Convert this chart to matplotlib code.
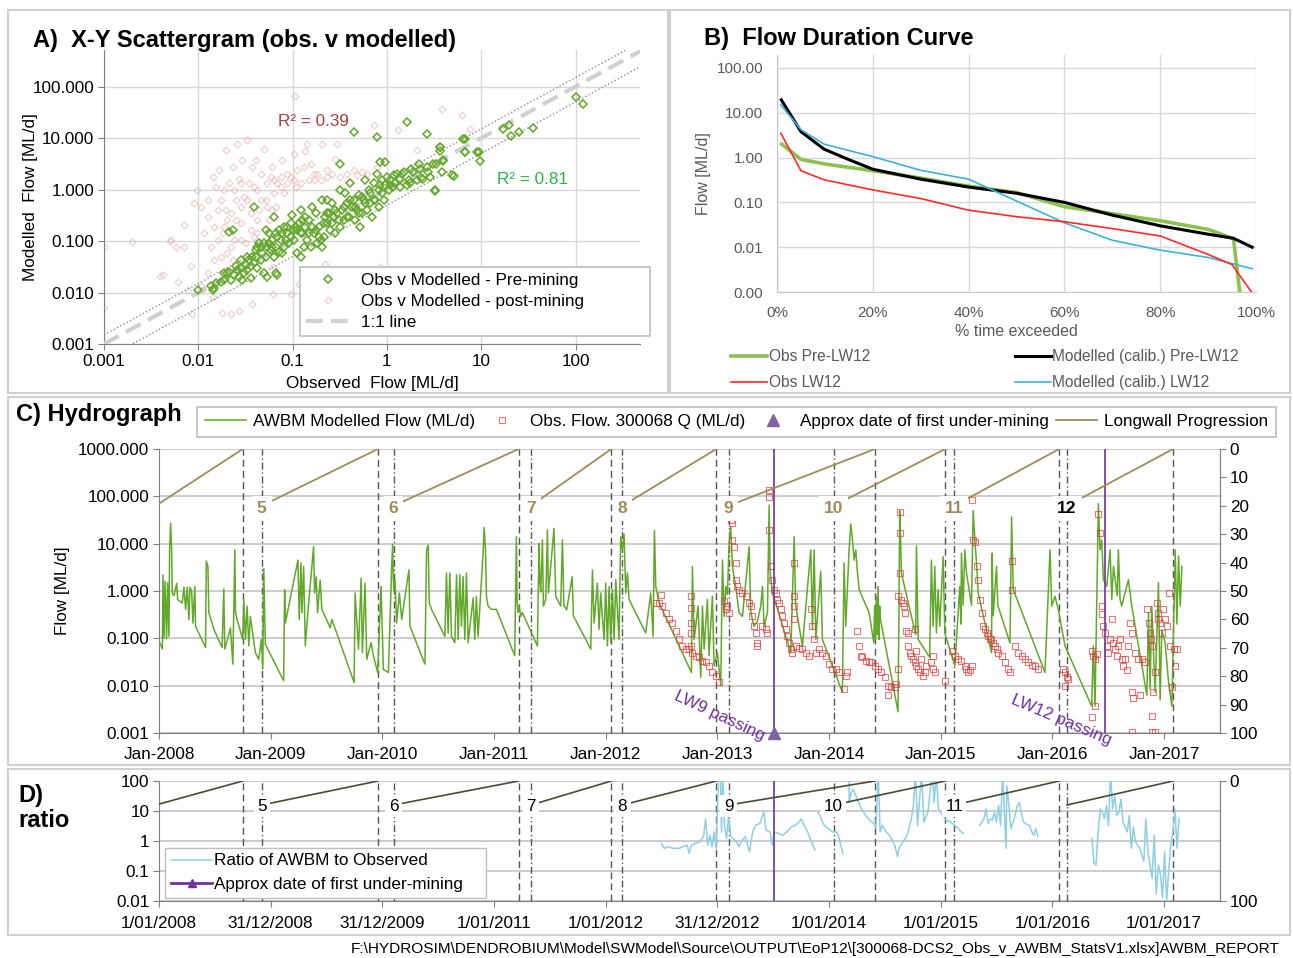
import numpy as np
import matplotlib
matplotlib.use('Agg')
import matplotlib.pyplot as plt
from matplotlib.patches import Rectangle
from matplotlib.lines import Line2D
from matplotlib.ticker import NullLocator

plt.rcParams['font.family'] = ['Liberation Sans', 'DejaVu Sans']

# ---------------- data ----------------
# A) scattergram: (observed, modelled) ML/d
PRE_MINING = [
    (0.010, 0.011), (0.0136, 0.0131), (0.0142, 0.0113), (0.0154, 0.0152), (0.0174, 0.0163), (0.0188, 0.0176),
    (0.0212, 0.025), (0.0221, 0.0176), (0.024, 0.022), (0.026, 0.027), (0.0271, 0.0204), (0.0282, 0.030),
    (0.0306, 0.0237), (0.0319, 0.034), (0.0332, 0.027), (0.0346, 0.043), (0.036, 0.032), (0.0391, 0.037),
    (0.0407, 0.050), (0.0424, 0.030), (0.0441, 0.090), (0.0459, 0.043), (0.0478, 0.058), (0.0498, 0.0237),
    (0.0519, 0.050), (0.054, 0.078), (0.0562, 0.141), (0.0586, 0.067), (0.061, 0.105), (0.0635, 0.296),
    (0.0635, 0.050), (0.0661, 0.078), (0.0689, 0.121), (0.0689, 0.022), (0.0717, 0.062), (0.0747, 0.105),
    (0.0778, 0.058), (0.081, 0.189), (0.0844, 0.105), (0.0879, 0.141), (0.0915, 0.090), (0.0953, 0.121),
    (0.0992, 0.318), (0.103, 0.163), (0.108, 0.189), (0.112, 0.058), (0.117, 0.220), (0.122, 0.40),
    (0.122, 0.141), (0.127, 0.255), (0.132, 0.078), (0.137, 0.189), (0.143, 0.105), (0.149, 0.255),
    (0.155, 0.078), (0.161, 0.46), (0.168, 0.141), (0.175, 0.163), (0.182, 0.090), (0.190, 0.189),
    (0.198, 0.105), (0.206, 0.62), (0.214, 0.121), (0.223, 0.296), (0.232, 0.220), (0.242, 0.343),
    (0.252, 0.163), (0.262, 0.54), (0.273, 0.296), (0.285, 0.141), (0.296, 0.343), (0.321, 0.189),
    (0.321, 3.18), (0.335, 0.40), (0.349, 0.255), (0.363, 0.84), (0.378, 0.54), (0.394, 0.296),
    (0.41, 1.31), (0.427, 0.46), (0.445, 0.62), (0.445, 13.1), (0.463, 0.255), (0.482, 0.40),
    (0.502, 0.78), (0.523, 0.189), (0.545, 0.343), (0.567, 0.62), (0.59, 1.52), (0.615, 0.40),
    (0.64, 0.97), (0.667, 0.54), (0.694, 0.296), (0.723, 1.31), (0.753, 0.62), (0.784, 10.5),
    (0.784, 2.04), (0.817, 0.46), (0.851, 3.43), (0.851, 1.21), (0.886, 1.52), (0.922, 0.62),
    (0.96, 3.43), (1.0, 1.76), (1.04, 0.97), (1.08, 1.21), (1.18, 1.89), (1.28, 2.04), (1.38, 1.13),
    (1.50, 2.20), (1.63, 20.4), (1.63, 1.21), (1.76, 1.31), (1.91, 2.20), (2.07, 1.52), (2.25, 2.55),
    (2.44, 1.63), (2.65, 12.1), (2.65, 2.75), (2.87, 1.76), (3.11, 3.18), (3.24, 0.97), (3.66, 6.7),
    (3.81, 2.20), (3.97, 3.70), (4.86, 1.89), (6.45, 9.7), (6.72, 5.4), (8.93, 5.4), (0.122, 0.050),
    (0.0519, 0.163), (0.0391, 0.46), (0.0231, 0.163), (0.0212, 0.15), (0.0148, 0.0121), (0.0204, 0.0237),
    (0.0294, 0.0176), (0.036, 0.0189), (0.054, 0.0204), (0.0661, 0.0237), (0.206, 0.078), (0.232, 0.62),
    (0.321, 0.97), (0.0424, 0.078), (0.081, 0.078), (100, 62), (119, 46), (17, 15), (19.5, 18),
    (20.7, 11), (25, 13), (35, 16), (6.8, 9.6), (6.8, 5.3), (9.5, 5.3), (9.8, 3.6), (3.7, 6.6),
    (3.7, 5.7), (3.9, 3.6), (5.1, 1.8), (3.2, 0.95), (2.7, 2.2), (3.3, 3.2), (2.2, 3.2), (2.3, 1.7),
    (1.8, 2.5), (1.7, 1.5), (1.45, 2.0), (1.17, 1.1),
    (0.0375, 0.050), (0.0407, 0.067), (0.0459, 0.078), (0.0498, 0.090), (0.0562, 0.090), (0.061, 0.078),
    (0.0661, 0.141), (0.0717, 0.163), (0.0778, 0.141), (0.0879, 0.189), (0.0953, 0.220), (0.103, 0.105),
    (0.112, 0.163), (0.127, 0.141), (0.137, 0.296), (0.149, 0.141), (0.161, 0.189), (0.175, 0.343),
    (0.190, 0.121), (0.214, 0.220), (0.232, 0.343), (0.262, 0.220), (0.285, 0.40), (0.308, 0.255),
    (0.349, 0.46), (0.378, 0.296), (0.41, 0.62), (0.463, 0.46), (0.502, 0.343), (0.545, 0.72),
    (0.59, 0.54), (0.667, 0.84), (0.723, 0.62), (0.817, 0.97), (0.886, 0.84), (0.96, 1.21),
    (1.08, 1.52), (1.23, 1.31), (1.38, 1.63), (0.0282, 0.043), (0.025, 0.032), (0.0188, 0.0237),
    (0.0332, 0.050),
]
POST_MINING = [
    (0.0042, 0.022), (0.0051, 0.105), (0.0058, 0.078), (0.0061, 0.0163), (0.0071, 0.204), (0.0077, 0.0113),
    (0.0084, 0.032), (0.0091, 0.54), (0.0098, 0.97), (0.0107, 0.46), (0.0116, 0.141), (0.0126, 0.296),
    (0.0136, 0.078), (0.0142, 1.76), (0.0148, 0.043), (0.016, 0.40), (0.0167, 2.37), (0.0174, 0.62),
    (0.0181, 0.141), (0.0188, 0.97), (0.0196, 5.8), (0.0204, 0.058), (0.0212, 1.31), (0.0221, 0.343),
    (0.0231, 2.75), (0.024, 0.105), (0.025, 0.62), (0.026, 7.8), (0.0271, 1.63), (0.0282, 0.220),
    (0.0294, 3.70), (0.0306, 0.72), (0.0319, 0.090), (0.0332, 9.0), (0.0346, 1.31), (0.036, 0.343),
    (0.0375, 2.75), (0.0391, 0.121), (0.0407, 3.70), (0.0424, 0.97), (0.0441, 0.40), (0.0459, 2.04),
    (0.0478, 0.050), (0.0498, 6.2), (0.0519, 0.62), (0.054, 1.31), (0.0562, 0.255), (0.0586, 1.76),
    (0.061, 2.75), (0.0635, 0.84), (0.0661, 0.46), (0.0689, 1.31), (0.0747, 1.76), (0.0778, 3.70),
    (0.081, 0.84), (0.0879, 1.31), (0.0953, 1.76), (0.103, 5.0), (0.108, 1.13), (0.112, 2.37),
    (0.122, 1.31), (0.132, 2.75), (0.143, 7.8), (0.149, 1.52), (0.155, 3.18), (0.168, 1.52),
    (0.182, 2.04), (0.198, 1.52), (0.206, 7.8), (0.232, 1.76), (0.262, 2.04), (0.296, 7.8),
    (0.321, 1.76), (0.378, 2.04), (0.445, 2.37), (0.482, 1.89), (0.545, 2.20), (0.615, 2.04),
    (0.723, 17.6), (0.784, 2.75), (2.07, 5.8), (3.81, 37), (6.20, 27.5), (0.0154, 1.13), (0.0196, 0.40),
    (0.025, 0.255), (0.036, 0.163), (0.0282, 0.105), (0.0424, 0.141), (0.0174, 0.050), (0.0126, 0.0237),
    (0.0107, 0.0131), (0.0231, 0.043), (0.0306, 0.027), (0.036, 0.050), (0.061, 0.40), (0.001, 0.005),
    (0.001, 0.075), (0.002, 0.095), (0.0039, 0.021), (0.005, 0.1), (0.007, 0.075), (0.011, 0.011),
    (0.0085, 0.0039), (0.0144, 0.008), (0.018, 0.004), (0.022, 0.0039), (0.027, 0.0044), (0.037, 0.006),
    (0.062, 0.0094), (0.095, 0.0094), (0.117, 0.0147), (0.062, 0.031), (0.22, 0.036), (0.33, 0.023),
    (0.85, 0.031), (0.105, 66), (7.7, 15), (0.28, 3.9), (0.137, 5.7), (1.3, 14),
    (0.0126, 0.62), (0.0148, 0.189), (0.0204, 0.255), (0.024, 0.97), (0.0282, 0.46), (0.0332, 0.62),
    (0.0391, 1.13), (0.0459, 0.62), (0.054, 0.46), (0.0635, 1.52), (0.0747, 1.13), (0.0879, 2.04),
    (0.103, 1.52), (0.168, 2.04), (0.232, 2.37), (0.0282, 1.31), (0.0188, 0.189), (0.016, 0.105),
    (0.0221, 0.078), (0.0424, 0.255),
]
ONE_TO_ONE = [0.001, 500]
BAND_HI, BAND_LO = 1.5, 0.5

# B) flow duration curves (% time exceeded, ML/d)
OBS_PRE_PCT = [1, 5, 10, 20, 30, 40, 50, 60, 70, 80, 90, 95.3, 96.7]
OBS_PRE_Q = [2.0, 0.91, 0.72, 0.51, 0.35, 0.23, 0.166, 0.08, 0.056, 0.039, 0.025, 0.0155, 0.0008]
MOD_PRE_PCT = [0.9, 5, 9.8, 15, 20, 30, 40, 50, 60, 70, 80, 90, 95.3, 99.2]
MOD_PRE_Q = [19.5, 3.8, 1.55, 0.9, 0.55, 0.33, 0.22, 0.16, 0.10, 0.052, 0.030, 0.0195, 0.0158, 0.010]
MOD_LW12_PCT = [0.8, 5, 9.8, 20, 30, 40, 60, 70, 80, 90, 95, 99.2]
MOD_LW12_Q = [15, 4.2, 2.0, 1.05, 0.52, 0.33, 0.035, 0.0143, 0.0086, 0.0059, 0.0043, 0.0033]
OBS_LW12_PCT = [0.8, 5, 9.8, 20, 30, 40, 50, 60, 70, 80, 90, 95, 99.2]
OBS_LW12_Q = [3.5, 0.51, 0.32, 0.19, 0.122, 0.067, 0.048, 0.037, 0.026, 0.0178, 0.0069, 0.0041, 0.00095]

# C) hydrograph: (decimal year, ML/d)
AWBM_FLOW = [
    (2008.000, 0.087), (2008.030, 0.060), (2008.036, 2.2), (2008.045, 0.10), (2008.054, 1.6), (2008.068, 0.10),
    (2008.077, 1.5), (2008.089, 0.11), (2008.095, 7.4), (2008.104, 27), (2008.113, 8.0), (2008.119, 0.90),
    (2008.134, 0.80), (2008.158, 1.45), (2008.167, 0.66), (2008.208, 0.56), (2008.223, 1.2), (2008.238, 0.41),
    (2008.253, 1.2), (2008.268, 0.25), (2008.277, 1.2), (2008.292, 1.0), (2008.304, 0.21), (2008.321, 1.25),
    (2008.327, 0.18), (2008.417, 0.064), (2008.423, 4.3), (2008.438, 3.3), (2008.446, 0.35), (2008.491, 0.155),
    (2008.565, 0.064), (2008.580, 1.1), (2008.589, 0.059), (2008.640, 0.165), (2008.661, 0.0285), (2008.679, 7.4),
    (2008.685, 0.35), (2008.699, 0.25), (2008.750, 0.095), (2008.759, 0.66), (2008.774, 0.095), (2008.789, 0.48),
    (2008.804, 0.069), (2008.818, 0.29), (2008.863, 0.05), (2008.893, 0.036), (2008.917, 0.095), (2008.929, 0.0224),
    (2008.938, 3.0), (2008.952, 0.075), (2009.116, 0.0127), (2009.125, 1.07), (2009.131, 0.21), (2009.244, 4.5),
    (2009.256, 0.25), (2009.271, 3.9), (2009.280, 0.35), (2009.295, 3.3), (2009.310, 0.069), (2009.330, 0.29),
    (2009.384, 8.6), (2009.393, 0.91), (2009.408, 2.0), (2009.420, 0.35), (2009.443, 1.7), (2009.458, 0.41),
    (2009.533, 0.167), (2009.548, 0.25), (2009.747, 0.0117), (2009.756, 0.91), (2009.786, 0.059), (2009.810, 1.87),
    (2009.821, 0.05), (2009.845, 1.47), (2009.860, 0.036), (2009.899, 0.081), (2009.920, 0.043), (2009.958, 0.019),
    (2009.988, 1.25), (2010.009, 0.022), (2010.054, 0.019), (2010.083, 3.0), (2010.092, 9.7), (2010.101, 1.07),
    (2010.113, 1.73), (2010.128, 0.21), (2010.152, 0.91), (2010.173, 0.25), (2010.238, 2.8), (2010.247, 0.18),
    (2010.381, 0.0285), (2010.396, 7.4), (2010.411, 9.3), (2010.420, 0.56), (2010.440, 0.41), (2010.560, 0.11),
    (2010.574, 2.4), (2010.589, 0.13), (2010.604, 2.4), (2010.619, 0.11), (2010.649, 0.081), (2010.664, 2.2),
    (2010.679, 0.095), (2010.693, 2.2), (2010.708, 0.18), (2010.723, 2.0), (2010.738, 0.095), (2010.753, 2.4),
    (2010.768, 0.081), (2010.813, 0.72), (2010.827, 0.095), (2010.842, 0.77), (2010.857, 0.11), (2010.902, 6.3),
    (2010.911, 22), (2010.923, 7.4), (2010.932, 0.77), (2010.946, 0.48), (2010.976, 0.41), (2011.021, 0.41),
    (2011.185, 0.043), (2011.200, 14), (2011.206, 0.6), (2011.215, 0.35), (2011.224, 0.48), (2011.239, 0.29),
    (2011.254, 0.35), (2011.388, 0.069), (2011.403, 10), (2011.409, 1.73), (2011.418, 0.95), (2011.433, 12),
    (2011.442, 0.48), (2011.463, 0.66), (2011.478, 19.6), (2011.487, 0.91), (2011.537, 21), (2011.552, 0.77),
    (2011.567, 0.66), (2011.597, 0.48), (2011.612, 12), (2011.625, 0.5), (2011.650, 0.4), (2011.700, 2.0),
    (2011.710, 0.3), (2011.866, 0.059), (2011.881, 2.8), (2011.896, 0.21), (2011.925, 1.47), (2011.940, 0.155),
    (2011.955, 0.91), (2011.985, 0.095), (2012.000, 1.47), (2012.015, 0.069), (2012.030, 1.25), (2012.045, 0.081),
    (2012.060, 1.07), (2012.075, 0.095), (2012.090, 1.73), (2012.119, 0.095), (2012.134, 14), (2012.149, 7.4),
    (2012.164, 16), (2012.179, 0.91), (2012.194, 2.4), (2012.209, 0.66), (2012.328, 0.18), (2012.358, 0.13),
    (2012.403, 0.91), (2012.424, 0.11), (2012.436, 19), (2012.448, 1.25), (2012.478, 0.56), (2012.767, 0.019),
    (2012.776, 3.3), (2012.791, 0.095), (2012.827, 0.48), (2012.851, 0.015), (2012.866, 0.48), (2012.881, 0.059),
    (2012.910, 0.66), (2012.925, 0.043), (2012.955, 0.77), (2012.970, 0.026), (2013.000, 0.05), (2013.030, 0.010),
    (2013.045, 4.5), (2013.060, 0.29), (2013.075, 1.25), (2013.090, 0.84), (2013.104, 10), (2013.119, 23),
    (2013.134, 3.3), (2013.164, 1.25), (2013.194, 0.35), (2013.224, 0.29), (2013.284, 8.6), (2013.299, 0.35),
    (2013.328, 0.18), (2013.358, 0.23), (2013.388, 0.48), (2013.403, 1.25), (2013.418, 0.18), (2013.448, 0.35),
    (2013.463, 65), (2013.472, 2.4), (2013.493, 0.91), (2013.657, 0.05), (2013.687, 14), (2013.701, 0.48),
    (2013.761, 0.069), (2013.836, 7.4), (2013.851, 0.155), (2013.866, 7.4), (2013.881, 0.095), (2013.925, 2.6),
    (2013.940, 0.095), (2014.119, 0.0073), (2014.134, 3.9), (2014.149, 0.18), (2014.179, 7.4), (2014.194, 26),
    (2014.209, 11.9), (2014.224, 4.5), (2014.239, 7.4), (2014.254, 2.4), (2014.269, 1.07), (2014.358, 0.35),
    (2014.400, 0.081), (2014.408, 0.48), (2014.415, 0.10), (2014.423, 0.77), (2014.430, 0.12), (2014.438, 1.25),
    (2014.447, 0.095), (2014.453, 0.48), (2014.460, 0.25), (2014.617, 0.0028), (2014.625, 0.30), (2014.632, 50),
    (2014.641, 11.9), (2014.647, 2.4), (2014.775, 0.12), (2014.782, 9.0), (2014.797, 0.095), (2014.900, 0.04),
    (2014.916, 4.5), (2014.931, 0.18), (2014.946, 3.3), (2014.961, 0.13), (2014.976, 1.07), (2014.991, 0.18),
    (2015.021, 5.3), (2015.036, 0.13), (2015.126, 0.026), (2015.170, 1.25), (2015.180, 0.20), (2015.185, 6.3),
    (2015.200, 0.50), (2015.215, 7.4), (2015.230, 2.4), (2015.275, 0.50), (2015.290, 50), (2015.305, 11.9),
    (2015.320, 3.9), (2015.335, 0.91), (2015.454, 0.05), (2015.460, 6.3), (2015.469, 0.30), (2015.499, 3.3),
    (2015.510, 0.50), (2015.620, 0.08), (2015.634, 37), (2015.649, 1.07), (2015.933, 0.019), (2015.978, 7.4),
    (2015.993, 0.48), (2016.022, 0.77), (2016.052, 0.41), (2016.112, 0.069), (2016.351, 0.0037), (2016.366, 0.069),
    (2016.381, 0.0037), (2016.411, 70), (2016.426, 7.4), (2016.441, 11.9), (2016.456, 1.73), (2016.486, 1.25),
    (2016.516, 7.4), (2016.531, 0.66), (2016.546, 3.3), (2016.580, 0.80), (2016.590, 7.4), (2016.605, 0.66),
    (2016.620, 0.48), (2016.680, 1.73), (2016.710, 0.48), (2016.845, 0.0063), (2016.860, 0.35), (2016.874, 0.0086),
    (2016.889, 0.48), (2016.919, 0.0073), (2016.949, 1.5), (2016.964, 0.005), (2016.979, 0.15), (2017.009, 0.081),
    (2017.039, 0.012), (2017.069, 0.0037), (2017.099, 7.4), (2017.114, 0.20), (2017.129, 5.5), (2017.144, 0.48),
    (2017.159, 3.3),
]
OBS_FLOW = [
    (2012.448, 0.56), (2012.478, 0.56), (2012.493, 0.84), (2012.507, 0.48), (2012.537, 0.35), (2012.567, 0.25),
    (2012.597, 0.21), (2012.627, 0.142), (2012.657, 0.095), (2012.687, 0.069), (2012.716, 0.059), (2012.746, 0.059),
    (2012.761, 0.77), (2012.761, 0.44), (2012.761, 0.21), (2012.761, 0.13), (2012.761, 0.069), (2012.776, 0.050),
    (2012.806, 0.043), (2012.836, 0.040), (2012.866, 0.034), (2012.896, 0.031), (2012.925, 0.026), (2012.955, 0.019),
    (2012.985, 0.016), (2013.015, 0.0117), (2013.060, 0.61), (2013.075, 0.41), (2013.090, 0.48), (2013.104, 0.35),
    (2013.119, 31), (2013.134, 27), (2013.134, 11.9), (2013.149, 8.6), (2013.164, 3.9), (2013.170, 1.73),
    (2013.179, 1.25), (2013.194, 1.07), (2013.224, 0.91), (2013.254, 0.77), (2013.284, 0.56), (2013.299, 0.48),
    (2013.313, 0.29), (2013.328, 0.18), (2013.343, 0.13), (2013.358, 0.081), (2013.358, 0.069), (2013.403, 0.18),
    (2013.433, 0.155), (2013.448, 0.13), (2013.463, 19.4), (2013.463, 134), (2013.463, 97), (2013.478, 3.3),
    (2013.493, 1.73), (2013.507, 1.07), (2013.522, 0.91), (2013.537, 0.66), (2013.552, 0.56), (2013.567, 0.41),
    (2013.582, 0.29), (2013.597, 0.21), (2013.612, 0.155), (2013.627, 0.11), (2013.642, 0.081), (2013.657, 0.059),
    (2013.672, 0.050), (2013.687, 3.9), (2013.687, 0.77), (2013.687, 0.48), (2013.687, 0.25), (2013.701, 0.069),
    (2013.731, 0.064), (2013.761, 0.059), (2013.791, 0.050), (2013.821, 0.043), (2013.836, 0.41), (2013.851, 0.18),
    (2013.866, 0.095), (2013.881, 0.050), (2013.910, 0.059), (2013.940, 0.050), (2013.970, 0.043), (2014.000, 0.0285),
    (2014.030, 0.0224), (2014.060, 0.0224), (2014.090, 0.019), (2014.134, 0.0086), (2014.149, 0.016), (2014.164, 0.019),
    (2014.254, 0.142), (2014.269, 0.069), (2014.284, 0.043), (2014.299, 0.040), (2014.328, 0.034), (2014.358, 0.031),
    (2014.378, 0.031), (2014.408, 0.026), (2014.438, 0.0224), (2014.468, 0.019), (2014.498, 0.015), (2014.528, 0.010),
    (2014.528, 0.0063), (2014.558, 0.0093), (2014.587, 0.0093), (2014.602, 0.0108), (2014.617, 0.0224), (2014.617, 0.77),
    (2014.632, 47), (2014.632, 16.5), (2014.632, 2.4), (2014.647, 0.66), (2014.662, 0.56), (2014.671, 0.48),
    (2014.677, 0.35), (2014.692, 0.142), (2014.707, 0.13), (2014.707, 0.069), (2014.722, 0.05), (2014.737, 0.043),
    (2014.752, 0.036), (2014.767, 0.031), (2014.767, 0.155), (2014.782, 0.026), (2014.782, 0.055), (2014.797, 0.0224),
    (2014.812, 0.019), (2014.827, 0.036), (2014.842, 0.016), (2014.856, 0.019), (2014.871, 0.026), (2014.916, 0.031),
    (2014.931, 0.0224), (2014.931, 0.043), (2014.946, 0.019), (2015.036, 0.0127), (2015.096, 0.055), (2015.126, 0.043),
    (2015.155, 0.036), (2015.185, 0.034), (2015.215, 0.026), (2015.230, 0.0224), (2015.245, 0.019), (2015.260, 0.021),
    (2015.275, 0.026), (2015.275, 82), (2015.290, 11.9), (2015.305, 10.6), (2015.320, 3.3), (2015.335, 1.73),
    (2015.350, 0.66), (2015.365, 0.35), (2015.380, 0.18), (2015.395, 0.155), (2015.410, 0.13), (2015.425, 0.11),
    (2015.439, 0.095), (2015.454, 0.095), (2015.469, 0.081), (2015.484, 0.069), (2015.499, 0.059), (2015.514, 0.050),
    (2015.544, 0.043), (2015.574, 0.031), (2015.604, 0.0224), (2015.619, 0.019), (2015.634, 4.2), (2015.634, 1.07),
    (2015.664, 0.069), (2015.694, 0.05), (2015.723, 0.043), (2015.753, 0.036), (2015.783, 0.031), (2015.813, 0.028),
    (2015.843, 0.026), (2015.873, 0.0224), (2016.097, 0.0224), (2016.112, 0.019), (2016.127, 0.015), (2016.142, 0.0138),
    (2016.112, 0.010), (2016.351, 0.055), (2016.366, 0.043), (2016.381, 0.036), (2016.396, 0.046), (2016.351, 0.0022),
    (2016.381, 0.0037), (2016.411, 43), (2016.426, 16.5), (2016.441, 0.48), (2016.447, 0.32), (2016.456, 0.18),
    (2016.471, 0.13), (2016.486, 0.069), (2016.501, 0.050), (2016.516, 0.095), (2016.531, 0.25), (2016.546, 0.081),
    (2016.561, 0.059), (2016.576, 0.043), (2016.590, 0.069), (2016.605, 0.095), (2016.620, 0.036), (2016.635, 0.026),
    (2016.650, 0.036), (2016.665, 0.021), (2016.680, 0.069), (2016.695, 0.21), (2016.710, 0.13), (2016.710, 0.0073),
    (2016.725, 0.0054), (2016.740, 0.05), (2016.770, 0.036), (2016.785, 0.0063), (2016.800, 0.036), (2016.830, 0.031),
    (2016.845, 0.41), (2016.860, 0.21), (2016.874, 0.13), (2016.883, 0.095), (2016.889, 0.069), (2016.889, 0.0023),
    (2016.904, 0.0073), (2016.919, 0.019), (2016.934, 0.56), (2016.943, 0.35), (2016.949, 0.25), (2016.964, 0.21),
    (2016.979, 0.13), (2016.994, 0.41), (2017.009, 0.25), (2017.024, 0.18), (2017.039, 0.91), (2017.054, 0.069),
    (2017.069, 0.0093), (2017.084, 0.059), (2017.099, 0.026), (2017.114, 0.059), (2016.919, 0.00105),
    (2016.889, 0.00105), (2016.710, 0.00105),
]

# D) ratio AWBM / observed (nan = gap in record, 200 = off the scale)
RATIO = [
    (2012.498, 0.83), (2012.524, 0.57), (2012.561, 0.64), (2012.599, 0.57), (2012.654, 0.57), (2012.691, 0.64),
    (2012.729, 0.73), (2012.747, 0.39), (2012.766, 0.73), (2012.803, 0.83), (2012.840, 0.94), (2012.876, 1.4),
    (2012.894, 5.5), (2012.914, 0.73), (2012.933, 1.56), (2012.952, 0.64), (2012.970, 2.0), (2012.989, 0.57),
    (2013.000, 9.1), (2013.011, 200), (2013.026, 200), (2013.037, 2.0), (2013.048, 200), (2013.063, 3.3),
    (2013.082, 1.21), (2013.100, 7.1), (2013.119, 1.4), (2013.138, 1.21), (2013.175, 0.94), (2013.193, 0.64),
    (2013.212, 0.94), (2013.249, 1.4), (2013.286, 0.44), (2013.316, 2.0), (2013.342, 3.3), (2013.379, 3.8),
    (2013.416, 9.1), (2013.435, 2.3), (2013.472, 2.0), (2013.491, 0.73), (2013.509, 2.0), (2013.546, 1.8),
    (2013.584, 1.56), (2013.621, 2.0), (2013.658, 2.9), (2013.695, 3.3), (2013.732, 4.3), (2013.751, 5.5),
    (2013.770, 3.8), (2013.807, 2.0), (2013.844, 0.94), (2013.874, 0.5), (2013.887, np.nan), (2013.900, 9.1),
    (2013.918, 7.1), (2013.955, 3.3), (2013.993, 2.6), (2014.030, 2.0), (2014.067, 2.0), (2014.086, 1.4),
    (2014.104, 0.73), (2014.123, 0.39), (2014.150, np.nan), (2014.178, 200), (2014.180, 19), (2014.197, 41),
    (2014.216, 53), (2014.253, 25), (2014.290, 11.7), (2014.327, 7.1), (2014.364, 4.9), (2014.401, 3.8),
    (2014.420, 2.6), (2014.439, 200), (2014.457, 2.0), (2014.476, 3.3), (2014.513, 2.0), (2014.550, 1.4),
    (2014.587, 0.73), (2014.613, 0.30), (2014.625, 0.57), (2014.662, 0.94), (2014.699, 1.56), (2014.736, 5.5),
    (2014.755, 15), (2014.773, 200), (2014.792, 3.3), (2014.810, 25), (2014.829, 200), (2014.848, 4.3),
    (2014.885, 9.1), (2014.922, 200), (2014.941, 19), (2014.959, 200), (2014.978, 11.7), (2015.015, 7.1),
    (2015.052, 4.9), (2015.089, 4.3), (2015.145, 2.9), (2015.182, 2.0), (2015.201, 1.8), (2015.280, np.nan),
    (2015.349, 3.3), (2015.368, 4.3), (2015.387, 5.5), (2015.405, 11.7), (2015.424, 3.8), (2015.442, 5.5),
    (2015.461, 4.9), (2015.480, 9.1), (2015.498, 4.3), (2015.517, 15), (2015.535, 3.3), (2015.554, 200),
    (2015.572, 5.5), (2015.584, 0.57), (2015.591, 69), (2015.610, 15), (2015.628, 2.6), (2015.665, 7.1),
    (2015.684, 15), (2015.703, 19), (2015.721, 9.1), (2015.740, 4.3), (2015.758, 3.8), (2015.796, 3.3),
    (2015.814, 2.0), (2015.833, 1.56), (2015.851, 2.6), (2015.870, 1.4), (2016.100, np.nan), (2016.353, 1.21),
    (2016.372, 0.18), (2016.390, 0.16), (2016.409, 2.0), (2016.428, 11.7), (2016.446, 9.1), (2016.465, 5.5),
    (2016.483, 15), (2016.502, 3.3), (2016.520, 200), (2016.539, 11.7), (2016.558, 32), (2016.576, 7.1),
    (2016.595, 9.1), (2016.613, 25), (2016.632, 4.3), (2016.669, 2.0), (2016.688, 7.1), (2016.706, 0.57),
    (2016.725, 2.9), (2016.743, 0.94), (2016.781, 0.57), (2016.818, 0.21), (2016.836, 5.5), (2016.855, 0.44),
    (2016.874, 0.16), (2016.892, 0.059), (2016.911, 1.56), (2016.929, 0.017), (2016.948, 0.16), (2016.967, 0.076),
    (2016.985, 0.0127), (2017.004, 0.44), (2017.022, 0.0100), (2017.041, 0.097), (2017.059, 0.73), (2017.078, 2.0),
    (2017.097, 11.7), (2017.115, 0.57), (2017.134, 5.5),
]

# longwall progression (start/end as decimal year, start level on the 0-100 scale)
LW_NUM = [4, 5, 6, 7, 8, 9, 10, 11, 12]
LW_START = [2007.97, 2008.92, 2010.10, 2011.33, 2012.15, 2013.10, 2014.04, 2015.12, 2016.13]
LW_END = [2008.75, 2009.96, 2011.22, 2012.05, 2012.99, 2014.41, 2015.04, 2016.06, 2017.08]
LW_LEVEL = 20
UNDERMINING = [2013.51, 2016.47]
YEARS = list(range(2008, 2018))
D_DATE_LABELS = ['1/01/2008', '31/12/2008', '31/12/2009', '1/01/2011', '1/01/2012',
                 '31/12/2012', '1/01/2014', '1/01/2015', '1/01/2016', '1/01/2017']
FOOTER = r'F:\HYDROSIM\DENDROBIUM\Model\SWModel\Source\OUTPUT\EoP12\[300068-DCS2_Obs_v_AWBM_StatsV1.xlsx]AWBM_REPORT'

# ---------------- colours ----------------
GREEN = '#62a82a'
PINK = '#e3a3a3'
RED_OBS = '#d94040'
OLIVE = '#a08c5a'
PURPLE = '#7030a0'
TRI = '#8064a2'
LBLUE = '#8ecfe3'
GRID = '#d9d9d9'
AXC = '#808080'

W, H = 1293, 958
def fbox(x0, y0, x1, y1):  # pixel box (top-left origin) -> figure fraction
    return [x0 / W, 1 - y1 / H, (x1 - x0) / W, (y1 - y0) / H]

fig = plt.figure(figsize=(W / 100, H / 100), dpi=100, facecolor='white')
for bx in [(8, 10, 668, 393), (670, 10, 1290, 393), (8, 397, 1290, 765), (8, 769, 1290, 935)]:
    l, b, w, h = fbox(*bx)
    fig.add_artist(Rectangle((l, b), w, h, transform=fig.transFigure, fill=False, ec='#d0d0d0', lw=1.5))

DEC = [1e-3, 1e-2, 1e-1, 1, 10, 100]

# ---------------- A) scattergram ----------------
axA = fig.add_axes(fbox(104, 50, 640, 344))
axA.set_xscale('log'); axA.set_yscale('log')
axA.set_xlim(1e-3, 483); axA.set_ylim(1e-3, 512)
axA.set_xticks(DEC, ['0.001', '0.01', '0.1', '1', '10', '100'])
axA.set_yticks(DEC, ['0.001', '0.010', '0.100', '1.000', '10.000', '100.000'])
axA.xaxis.set_minor_locator(NullLocator()); axA.yaxis.set_minor_locator(NullLocator())
axA.grid(True, color=GRID, lw=1); axA.set_axisbelow(True)
for s in ['top', 'right']: axA.spines[s].set_visible(False)
for s in ['left', 'bottom']: axA.spines[s].set_color(AXC)
axA.tick_params(labelsize=12.3, length=4, color=AXC, pad=3)
pre = np.array(PRE_MINING); post = np.array(POST_MINING); one = np.array(ONE_TO_ONE)
hpost, = axA.plot(post[:, 0], post[:, 1], 'D', ms=3.5, mfc='none', mec=PINK, mew=0.8, alpha=0.55, ls='none')
hpre, = axA.plot(pre[:, 0], pre[:, 1], 'D', ms=3.8, mfc='none', mec=GREEN, mew=1.1, ls='none', zorder=4)
h11, = axA.plot(one, one, color='#d0d0d0', lw=3, dashes=(4, 2), zorder=3)
axA.plot(one, one * BAND_HI, ':', color='#8c8c8c', lw=1)
axA.plot(one, one * BAND_LO, ':', color='#8c8c8c', lw=1)
axA.text(0.39, 0.758, 'R² = 0.39', transform=axA.transAxes, color='#a5403c', fontsize=12.3, ha='center', va='center')
axA.text(0.80, 0.558, 'R² = 0.81', transform=axA.transAxes, color='#2eb34a', fontsize=12.3, ha='center', va='center')
legA = axA.legend([hpre, hpost, h11], ['Obs v Modelled - Pre-mining', 'Obs v Modelled - post-mining', '1:1 line'],
                  loc='lower left', bbox_to_anchor=(0.366, 0.027, 0.653, 0.22), mode='expand', borderaxespad=0,
                  fontsize=12.3, frameon=True, fancybox=False, edgecolor='#bfbfbf', framealpha=1,
                  handlelength=2.6, handletextpad=0.6, borderpad=0.35, labelspacing=0.35)
legA.get_frame().set_linewidth(1.2)
axA.set_xlabel('Observed  Flow [ML/d]', fontsize=12.3, labelpad=5)
axA.set_ylabel('Modelled  Flow [ML/d]', fontsize=12.3, labelpad=-4)
fig.text(33 / W, 1 - 40 / H, 'A)  X-Y Scattergram (obs. v modelled)', fontsize=17, weight='bold', va='center')

# ---------------- B) flow duration curve ----------------
axB = fig.add_axes(fbox(777, 55, 1256, 292))
axB.set_yscale('log'); axB.set_xlim(0, 100); axB.set_ylim(1e-3, 195)
axB.set_xticks(range(0, 101, 20), [f'{p}%' for p in range(0, 101, 20)])
axB.set_yticks(DEC, ['0.00', '0.01', '0.10', '1.00', '10.00', '100.00'])
axB.yaxis.set_minor_locator(NullLocator())
axB.grid(True, color=GRID, lw=1); axB.set_axisbelow(True)
for s in ['top', 'right']: axB.spines[s].set_visible(False)
for s in ['left', 'bottom']: axB.spines[s].set_color('#c8c8c8')
axB.tick_params(length=0, labelsize=11, labelcolor='#595959', pad=10)
b1, = axB.plot(OBS_PRE_PCT, OBS_PRE_Q, color='#8cc152', lw=2.6)
b3, = axB.plot(MOD_PRE_PCT, MOD_PRE_Q, color='black', lw=2.2)
b4, = axB.plot(MOD_LW12_PCT, MOD_LW12_Q, color='#3fb1d9', lw=1.2)
b2, = axB.plot(OBS_LW12_PCT, OBS_LW12_Q, color='#ff2a2a', lw=1.2)
axB.set_xlabel('% time exceeded', fontsize=11.5, color='#595959', labelpad=3)
axB.set_ylabel('Flow [ML/d]', fontsize=11.5, color='#595959', labelpad=4)
axB.legend([b1, b2, b3, b4], ['Obs Pre-LW12', 'Obs LW12', 'Modelled (calib.) Pre-LW12', 'Modelled (calib.) LW12'],
           ncol=2, loc='upper left', bbox_to_anchor=(-0.108, -0.215), borderaxespad=0, frameon=False,
           fontsize=11.2, labelcolor='#595959', handlelength=2.3, handletextpad=0.1, columnspacing=9.3,
           labelspacing=0.7)
fig.text(704 / W, 1 - 38 / H, 'B)  Flow Duration Curve', fontsize=17, weight='bold', va='center')

# ---------------- C) hydrograph ----------------
def date_axes(ax, ylo, yhi, ticks, ticklabels, xlabels, xpad):
    ax.set_yscale('log'); ax.set_ylim(ylo, yhi); ax.set_xlim(2008, 2017.5)
    ax.set_yticks(ticks, ticklabels); ax.yaxis.set_minor_locator(NullLocator())
    ax.set_xticks(YEARS, xlabels)
    ax.grid(axis='y', color='#c4c4c4', lw=1.2); ax.set_axisbelow(True)
    ax.spines['top'].set_visible(False)
    for s in ['left', 'bottom', 'right']: ax.spines[s].set_color(AXC)
    ax.tick_params(labelsize=12.3, length=4, color=AXC, pad=3)
    ax.tick_params(axis='x', pad=xpad)
    for d in LW_END:
        ax.axvline(d, color='#555555', lw=1, ls=(0, (5, 3)), zorder=2)
    for d in LW_START:
        ax.axvline(d, color='#555555', lw=1, ls=(0, (5, 2, 1, 2)), zorder=2)
    tw = ax.twinx()
    tw.set_ylim(100, 0)
    for s in ['top', 'left', 'bottom']: tw.spines[s].set_visible(False)
    tw.spines['right'].set_color(AXC)
    tw.tick_params(labelsize=12.3, length=4, color=AXC, pad=3)
    return tw

axC = fig.add_axes(fbox(159, 449, 1220, 733))
axC2 = date_axes(axC, 1e-3, 1e3, [1e-3, 1e-2, 1e-1, 1, 10, 100, 1000],
                 ['0.001', '0.010', '0.100', '1.000', '10.000', '100.000', '1000.000'],
                 [f'Jan-{y}' for y in YEARS], 6)
axC2.set_yticks(range(0, 101, 10))
flow = np.array(AWBM_FLOW); obs = np.array(OBS_FLOW)
c1, = axC.plot(flow[:, 0], flow[:, 1], color=GREEN, lw=1.1, zorder=3)
c2, = axC.plot(obs[:, 0], obs[:, 1], 's', ms=4, mfc='none', mec=RED_OBS, mew=0.8, alpha=0.7, ls='none', zorder=4)
for d in UNDERMINING:
    axC.axvline(d, color=PURPLE, lw=1.2, zorder=5)
axC.plot([UNDERMINING[0]], [1e-3], '^', color=TRI, ms=9, clip_on=False, zorder=6)
for n, s, e in zip(LW_NUM, LW_START, LW_END):
    axC2.plot([s, e], [LW_LEVEL, 0], color=OLIVE, lw=1.3)
    if s > 2008:
        axC2.text(s, LW_LEVEL + 1, str(n), ha='center', va='center', fontsize=12.5, weight='bold',
                  color='black' if n == 12 else OLIVE, bbox=dict(fc='white', ec='none', pad=3.6), zorder=6)
axC.text(2013.02, 0.0023, 'LW9 passing', rotation=-25, color=PURPLE, fontsize=12.3, ha='center', va='center',
         rotation_mode='anchor', zorder=7)
axC.text(2016.08, 0.0019, 'LW12 passing', rotation=-23, color=PURPLE, fontsize=12.3, ha='center', va='center',
         rotation_mode='anchor', zorder=7)
axC.set_ylabel('Flow [ML/d]', fontsize=12.3, labelpad=6)
hC = [c1, Line2D([], [], marker='s', ms=4, mfc='none', mec=RED_OBS, mew=0.8, alpha=0.7, ls='none'),
      Line2D([], [], marker='^', ms=8, color=TRI, ls='none'), Line2D([], [], color=OLIVE, lw=1.3)]
legC = axC.legend(hC, ['AWBM Modelled Flow (ML/d)', 'Obs. Flow. 300068 Q (ML/d)',
                       'Approx date of first under-mining', 'Longwall Progression'],
                  ncol=4, loc='lower left', bbox_to_anchor=(0.0358, 1.042, 1.017, 0.109), mode='expand',
                  borderaxespad=0, fontsize=12.3, frameon=True, fancybox=False, edgecolor='#bfbfbf',
                  framealpha=1, handlelength=2.4, handletextpad=0.4, borderpad=0.45, columnspacing=0.8)
legC.get_frame().set_linewidth(1.2)
fig.text(16 / W, 1 - 415 / H, 'C) Hydrograph', fontsize=17, weight='bold', va='center')

# ---------------- D) ratio ----------------
axD = fig.add_axes(fbox(159, 781, 1220, 901))
axD2 = date_axes(axD, 0.01, 100, [0.01, 0.1, 1, 10, 100], ['0.01', '0.1', '1', '10', '100'], D_DATE_LABELS, 7)
axD2.set_yticks([0, 100])
ratio = np.array(RATIO)
d1, = axD.plot(ratio[:, 0], ratio[:, 1], color=LBLUE, lw=1.1, zorder=3)
axD.axvline(UNDERMINING[0], color=PURPLE, lw=1.2, zorder=5)
for n, s, e in zip(LW_NUM, LW_START, LW_END):
    axD2.plot([s, e], [LW_LEVEL, 0], color='#4d4a33', lw=1.2)
    if 2008 < s < 2016:
        axD2.text(s, LW_LEVEL + 1, str(n), ha='center', va='center', fontsize=12.3, color='black',
                  bbox=dict(fc='white', ec='none', pad=2.5), zorder=6)
legD = axD.legend([d1, Line2D([], [], color=PURPLE, lw=2, marker='^', ms=6)],
                  ['Ratio of AWBM to Observed', 'Approx date of first under-mining'],
                  loc='lower left', bbox_to_anchor=(0.006, 0.025, 0.302, 0.4), mode='expand', borderaxespad=0,
                  fontsize=12.3, frameon=True, fancybox=False, edgecolor='#bfbfbf', framealpha=1,
                  handlelength=2.4, handletextpad=0.1, borderpad=0.35, labelspacing=0.5)
legD.set_zorder(10)
fig.text(18 / W, 1 - 808 / H, 'D)\nratio', fontsize=17, weight='bold', va='center', linespacing=1.15)

fig.text(1280 / W, 1 - 949 / H, FOOTER, fontsize=11.1, ha='right', va='center')

fig.savefig('out.png', dpi=100, facecolor='white')
